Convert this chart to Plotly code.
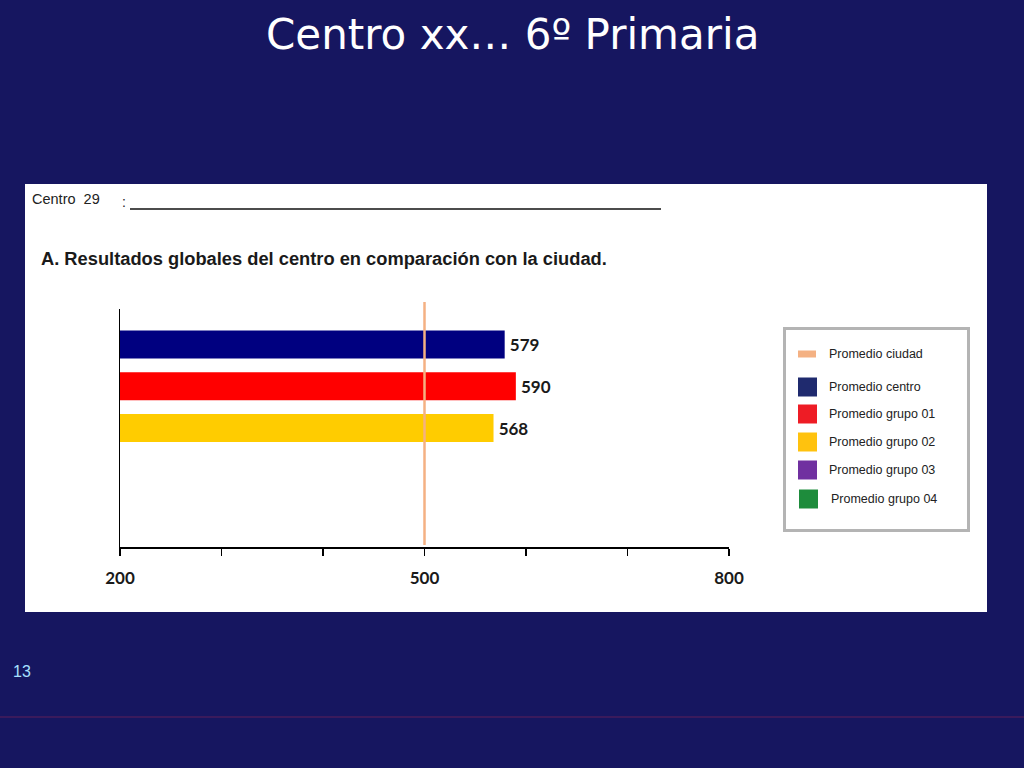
import plotly.graph_objects as go

W, H = 1024, 768

# ---- data ----
categories = ["Promedio centro", "Promedio grupo 01", "Promedio grupo 02"]
values = [579, 590, 568]
bar_colors = ["#000080", "#ff0000", "#ffcc00"]
promedio_ciudad = 500
tick_vals = [200, 300, 400, 500, 600, 700, 800]
tick_text = ["200", "", "", "500", "", "", "800"]
legend_names = ["Promedio ciudad", "Promedio centro", "Promedio grupo 01",
                "Promedio grupo 02", "Promedio grupo 03", "Promedio grupo 04"]
legend_colors = ["#f4b183", "#1f2a6e", "#ee1c25", "#ffc20e", "#7030a0", "#1e8c3c"]

BG = "#161660"


def px(x):
    return x / W


def py(y):
    return 1 - y / H


fig = go.Figure()
fig.add_trace(go.Bar(
    y=categories, x=values, orientation="h",
    marker=dict(color=bar_colors, line=dict(width=0)),
    width=0.67,
    texttemplate="\u2009%{x}", textposition="outside",
    textfont=dict(family="Lato", size=17, color="#1a1a1a", weight="bold"),
    cliponaxis=False, showlegend=False, hoverinfo="skip",
))

shapes = []
annotations = []

# white panel
shapes.append(dict(type="rect", xref="paper", yref="paper", layer="below",
                   x0=px(25), x1=px(987), y0=py(612), y1=py(184),
                   fillcolor="white", line=dict(width=0)))
# city average line
shapes.append(dict(type="line", xref="x", yref="paper",
                   x0=promedio_ciudad, x1=promedio_ciudad, y0=py(545), y1=py(302),
                   line=dict(color="#f4b183", width=2.5)))
# underline of header
shapes.append(dict(type="line", xref="paper", yref="paper",
                   x0=px(130), x1=px(661), y0=py(209), y1=py(209),
                   line=dict(color="#111111", width=1.5)))
# bottom slide line
shapes.append(dict(type="line", xref="paper", yref="paper",
                   x0=0, x1=1, y0=py(717), y1=py(717),
                   line=dict(color="#3a1a5c", width=2)))
# legend box
shapes.append(dict(type="rect", xref="paper", yref="paper",
                   x0=px(784.5), x1=px(968.5), y0=py(530.5), y1=py(328.5),
                   fillcolor="white", line=dict(color="#b4b4b4", width=3)))

leg_y = [354, 387, 414, 442, 470, 499]
for i, (name, col) in enumerate(zip(legend_names, legend_colors)):
    cy = leg_y[i]
    if i == 0:
        shapes.append(dict(type="rect", xref="paper", yref="paper",
                           x0=px(798), x1=px(816), y0=py(cy + 3.5), y1=py(cy - 3.5),
                           fillcolor=col, line=dict(width=0)))
    else:
        x0 = 798 if i < 5 else 799
        shapes.append(dict(type="rect", xref="paper", yref="paper",
                           x0=px(x0), x1=px(x0 + 19), y0=py(cy + 9.5), y1=py(cy - 9.5),
                           fillcolor=col, line=dict(width=0)))
    annotations.append(dict(xref="paper", yref="paper", x=px(827 if i < 5 else 829), y=py(cy),
                            xanchor="left", yanchor="middle", showarrow=False,
                            text=name, font=dict(family="Liberation Sans", size=12.5, color="#222222")))

# titles / texts
annotations.append(dict(xref="paper", yref="paper", x=0.5, y=py(35), xanchor="center", yanchor="middle",
                        showarrow=False, text="Centro xx… 6º Primaria",
                        font=dict(family="DejaVu Sans", size=42, color="white")))
annotations.append(dict(xref="paper", yref="paper", x=px(30), y=py(199), xanchor="left", yanchor="middle",
                        showarrow=False, text="Centro  29",
                        font=dict(family="Liberation Sans", size=14.5, color="#222222")))
annotations.append(dict(xref="paper", yref="paper", x=px(120), y=py(202), xanchor="left", yanchor="middle",
                        showarrow=False, text=":",
                        font=dict(family="Liberation Sans", size=14, color="#222222")))
annotations.append(dict(xref="paper", yref="paper", x=px(39), y=py(259), xanchor="left", yanchor="middle",
                        showarrow=False, text="A. Resultados globales del centro en comparación con la ciudad.",
                        font=dict(family="Liberation Sans", size=18.3, color="#1a1a1a", weight="bold")))
annotations.append(dict(xref="paper", yref="paper", x=px(11), y=py(671), xanchor="left", yanchor="middle",
                        showarrow=False, text="13",
                        font=dict(family="Liberation Sans", size=16, color="#a8e0ff")))

fig.update_layout(
    template="none",
    width=W, height=H,
    margin=dict(l=0, r=0, t=0, b=0, pad=0),
    paper_bgcolor=BG, plot_bgcolor="white",
    shapes=shapes, annotations=annotations,
    xaxis=dict(domain=[px(120), px(729)], range=[200, 800], automargin=False,
               tickvals=tick_vals, ticktext=tick_text,
               ticks="outside", ticklen=7, tickwidth=1.5, tickcolor="black",
               showline=True, linecolor="black", linewidth=1.5,
               showgrid=False, zeroline=False, ticklabelstandoff=8,
               tickfont=dict(family="Lato", size=17, color="#1a1a1a", weight="bold")),
    yaxis=dict(domain=[py(547), py(309)], range=[4.85, -0.85], automargin=False,
               showline=True, linecolor="black", linewidth=1.5,
               showticklabels=False, ticks="", showgrid=False, zeroline=False),
    bargap=0.3,
)

fig.write_html("out.html", config={"displayModeBar": False, "staticPlot": True},
               post_script="document.body.style.margin='0';document.body.style.overflow='hidden';")
